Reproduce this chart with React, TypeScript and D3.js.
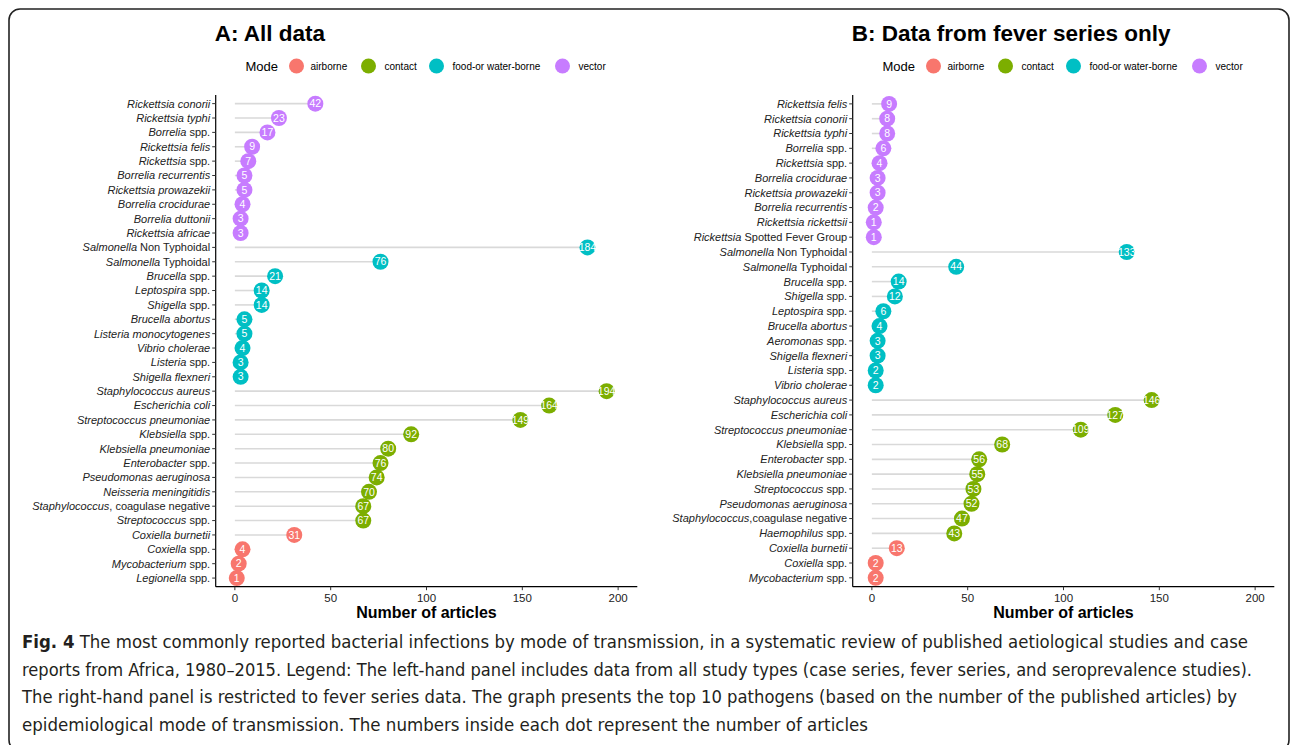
import React from "react";
import * as d3 from "d3";

// ---- Data: Panel A (all data), top to bottom. "|" splits italic part from plain part
const namesA = [
  "Rickettsia conorii", "Rickettsia typhi", "Borrelia| spp.", "Rickettsia felis", "Rickettsia| spp.",
  "Borrelia recurrentis", "Rickettsia prowazekii", "Borrelia crocidurae", "Borrelia duttonii", "Rickettsia africae",
  "Salmonella| Non Typhoidal", "Salmonella| Typhoidal", "Brucella| spp.", "Leptospira| spp.", "Shigella| spp.",
  "Brucella abortus", "Listeria monocytogenes", "Vibrio cholerae", "Listeria| spp.", "Shigella flexneri",
  "Staphylococcus aureus", "Escherichia coli", "Streptococcus pneumoniae", "Klebsiella| spp.", "Klebsiella pneumoniae",
  "Enterobacter| spp.", "Pseudomonas aeruginosa", "Neisseria meningitidis", "Staphylococcus|, coagulase negative", "Streptococcus| spp.",
  "Coxiella burnetii", "Coxiella| spp.", "Mycobacterium| spp.", "Legionella| spp.",
];
const valuesA = [
  42, 23, 17, 9, 7, 5, 5, 4, 3, 3,
  184, 76, 21, 14, 14, 5, 5, 4, 3, 3,
  194, 164, 149, 92, 80, 76, 74, 70, 67, 67,
  31, 4, 2, 1,
];
const modesA = [
  ...Array(10).fill("vector"),
  ...Array(10).fill("food-or water-borne"),
  ...Array(10).fill("contact"),
  ...Array(4).fill("airborne"),
];

// ---- Data: Panel B (fever series only)
const namesB = [
  "Rickettsia felis", "Rickettsia conorii", "Rickettsia typhi", "Borrelia| spp.", "Rickettsia| spp.",
  "Borrelia crocidurae", "Rickettsia prowazekii", "Borrelia recurrentis", "Rickettsia rickettsii", "Rickettsia| Spotted Fever Group",
  "Salmonella| Non Typhoidal", "Salmonella| Typhoidal", "Brucella| spp.", "Shigella| spp.", "Leptospira| spp.",
  "Brucella abortus", "Aeromonas| spp.", "Shigella flexneri", "Listeria| spp.", "Vibrio cholerae",
  "Staphylococcus aureus", "Escherichia coli", "Streptococcus pneumoniae", "Klebsiella| spp.", "Enterobacter| spp.",
  "Klebsiella pneumoniae", "Streptococcus| spp.", "Pseudomonas aeruginosa", "Staphylococcus|,coagulase negative", "Haemophilus| spp.",
  "Coxiella burnetii", "Coxiella| spp.", "Mycobacterium| spp.",
];
const valuesB = [
  9, 8, 8, 6, 4, 3, 3, 2, 1, 1,
  133, 44, 14, 12, 6, 4, 3, 3, 2, 2,
  146, 127, 109, 68, 56, 55, 53, 52, 47, 43,
  13, 2, 2,
];
const modesB = [
  ...Array(10).fill("vector"),
  ...Array(10).fill("food-or water-borne"),
  ...Array(10).fill("contact"),
  ...Array(3).fill("airborne"),
];

const modeLevels = ["airborne", "contact", "food-or water-borne", "vector"];
const modeColors = ["#F8766D", "#7CAE00", "#00BFC4", "#C77CFF"];
const xTicks = [0, 50, 100, 150, 200];

const captionLines = [
  { bold: "Fig. 4", rest: " The most commonly reported bacterial infections by mode of transmission, in a systematic review of published aetiological studies and case", w: 1226 },
  { bold: "", rest: "reports from Africa, 1980–2015. Legend: The left-hand panel includes data from all study types (case series, fever series, and seroprevalence studies).", w: 1230 },
  { bold: "", rest: "The right-hand panel is restricted to fever series data. The graph presents the top 10 pathogens (based on the number of the published articles) by", w: 1215 },
  { bold: "", rest: "epidemiological mode of transmission. The numbers inside each dot represent the number of articles", w: 846 },
];

const color = d3.scaleOrdinal<string, string>().domain(modeLevels).range(modeColors);
const FONT = "'Liberation Sans', Arial, Helvetica, sans-serif";

type PanelProps = {
  title: string;
  names: string[];
  values: number[];
  modes: string[];
  left: number;
  right: number;
};

function Panel({ title, names, values, modes, left, right }: PanelProps) {
  const top = 95;
  const bottom = 586.7;
  const x = d3.scaleLinear().domain([-10, 210]).range([left, right]);
  const y = d3
    .scalePoint<string>()
    .domain(names.map((_, i) => String(i)))
    .range([top, bottom])
    .padding(0.6);
  const cx = (left + right) / 2;
  const legStart = cx - 181;
  const legOffsets = [
    { c: 51, t: 65 },
    { c: 123, t: 139 },
    { c: 191, t: 207 },
    { c: 317, t: 333 },
  ];
  return (
    <g>
      <text x={left - 1} y={41} fontFamily={FONT} fontWeight="bold" fontSize={22.5} fill="#000">
        {title}
      </text>
      {/* legend */}
      <text x={legStart} y={70.5} fontFamily={FONT} fontSize={13} fill="#000">
        Mode
      </text>
      {modeLevels.map((m, i) => (
        <g key={m}>
          <circle cx={legStart + legOffsets[i].c} cy={66} r={7.5} fill={color(m)} />
          <text x={legStart + legOffsets[i].t} y={69.5} fontFamily={FONT} fontSize={10} fill="#000">
            {m}
          </text>
        </g>
      ))}
      {/* segments */}
      {values.map((v, i) => (
        <line
          key={"s" + i}
          x1={x(0)}
          x2={x(v)}
          y1={y(String(i))}
          y2={y(String(i))}
          stroke="#d9d9d9"
          strokeWidth={1.6}
        />
      ))}
      {/* points */}
      {values.map((v, i) => (
        <g key={"p" + i}>
          <circle cx={x(v)} cy={y(String(i))} r={8} fill={color(modes[i])} />
          <text
            x={x(v)}
            y={y(String(i))! + 3.7}
            textAnchor="middle"
            fontFamily={FONT}
            fontSize={10.5}
            fill="#fff"
          >
            {v}
          </text>
        </g>
      ))}
      {/* y axis */}
      <line x1={left} x2={left} y1={top} y2={bottom} stroke="#000" strokeWidth={1.2} />
      {names.map((n, i) => {
        const [it, plain] = n.split("|");
        const yy = y(String(i))!;
        return (
          <g key={"y" + i}>
            <line x1={left - 3.5} x2={left} y1={yy} y2={yy} stroke="#333" strokeWidth={1} />
            <text x={left - 5.5} y={yy + 3.9} textAnchor="end" fontFamily={FONT} fontSize={11} fill="#222">
              <tspan fontStyle="italic">{it}</tspan>
              {plain !== undefined ? <tspan>{plain}</tspan> : null}
            </text>
          </g>
        );
      })}
      {/* x axis */}
      <line x1={left} x2={right} y1={bottom} y2={bottom} stroke="#000" strokeWidth={1.2} />
      {xTicks.map((t) => (
        <g key={"x" + t}>
          <line x1={x(t)} x2={x(t)} y1={bottom} y2={bottom + 3.5} stroke="#333" strokeWidth={1} />
          <text x={x(t)} y={bottom + 15.5} textAnchor="middle" fontFamily={FONT} fontSize={11.5} fill="#222">
            {t}
          </text>
        </g>
      ))}
      <text x={cx} y={618} textAnchor="middle" fontFamily={FONT} fontWeight="bold" fontSize={16} fill="#000">
        Number of articles
      </text>
    </g>
  );
}

export default function App() {
  const capFont = "'Liberation Sans Narrow', 'DejaVu Sans Condensed', Arial, sans-serif";
  return (
    <svg
      width={1292}
      height={745}
      style={{ position: "absolute", left: 0, top: 0, background: "#fff" }}
    >
      <rect x={0} y={0} width={1292} height={745} fill="#fff" />
      <rect x={9} y={9} width={1280} height={742} rx={11} ry={11} fill="none" stroke="#222" strokeWidth={1.6} />
      <Panel title="A: All data" names={namesA} values={valuesA} modes={modesA} left={215.7} right={637.3} />
      <Panel
        title="B: Data from fever series only"
        names={namesB}
        values={valuesB}
        modes={modesB}
        left={852.7}
        right={1274.3}
      />
      {captionLines.map((l, i) => (
        <text
          key={"c" + i}
          x={22}
          y={648 + i * 27.5}
          fontFamily={capFont}
          fontSize={18.5}
          fill="#231f20"
          textLength={l.w}
          lengthAdjust="spacingAndGlyphs"
        >
          {l.bold ? <tspan fontWeight="bold">{l.bold}</tspan> : null}
          <tspan>{l.rest}</tspan>
        </text>
      ))}
    </svg>
  );
}
